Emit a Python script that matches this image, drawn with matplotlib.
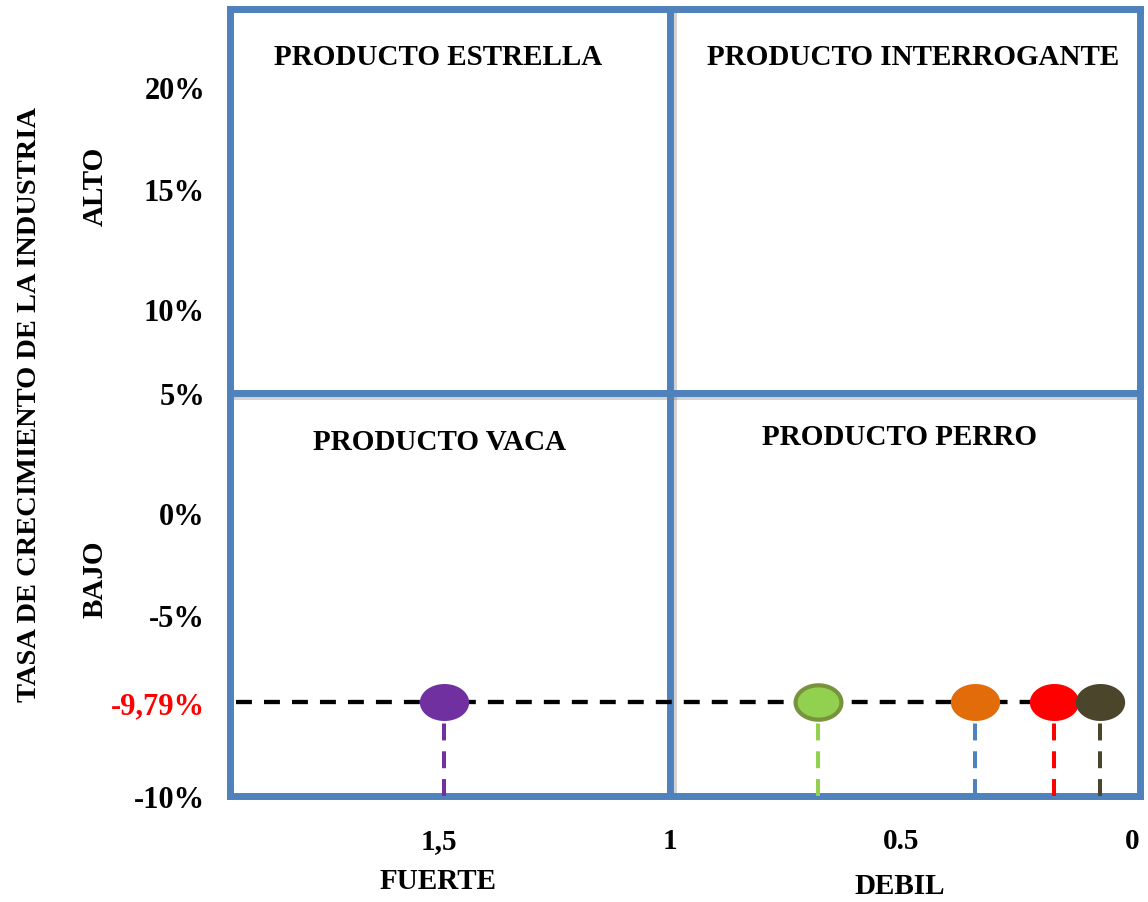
import numpy as np
import matplotlib
matplotlib.use("Agg")
import matplotlib.pyplot as plt
from matplotlib.path import Path
from matplotlib.markers import MarkerStyle
import matplotlib.patheffects as pe

# ---- data -------------------------------------------------------------
products_share = [1.49, 0.68, 0.34, 0.17, 0.07]          # relative market share
products_growth = [-9.79, -9.79, -9.79, -9.79, -9.79]    # industry growth (%)
point_faces = ["#7030A0", "#92D050", "#E36C0A", "#FF0000", "#4A452B"]
point_edges = ["#7030A0", "#77933C", "#E36C0A", "#FF0000", "#4A452B"]
stem_colors = ["#7030A0", "#92D050", "#4F81BD", "#FF0000", "#4A452B"]

growth_ticks = [20, 15, 10, 5, 0, -5, -9.79, -10]
growth_labels = ["20%", "15%", "10%", "5%", "0%", "-5%", "-9,79%", "-10%"]
share_ticks = [1.5, 1, 0.5, 0]
share_labels = ["1,5", "1", "0.5", "0"]
quadrants = ["PRODUCTO ESTRELLA", "PRODUCTO INTERROGANTE",
             "PRODUCTO VACA", "PRODUCTO PERRO"]
growth_line = -9.79
share_split = 1.0
growth_split = 5.0

# ---- layout -----------------------------------------------------------
W, H = 1148, 903
BLUE = "#4F81BD"
FONT = "Liberation Serif"
plt.rcParams["font.family"] = [FONT, "DejaVu Serif"]
plt.rcParams["font.weight"] = "bold"

# piecewise-linear vertical scale (value -> pixel row from the top)
scale_vals = np.array([-30, -10, -9.79, -5, 0, 5, 10, 15, 20, 25, 60])
scale_rows = np.array([1200, 797, 703, 616, 514, 394, 310, 190, 88, -14, -728])
scale_pos = 797 - scale_rows


def fwd(v):
    return np.interp(v, scale_vals, scale_pos)


def inv(p):
    return np.interp(p, scale_pos, scale_vals)


fig = plt.figure(figsize=(W / 100, H / 100), dpi=100)
left, right, top, bottom = 230, 1140, 10, 797
ax = fig.add_axes([left / W, 1 - bottom / H, (right - left) / W, (bottom - top) / H])
ax.set_yscale("function", functions=(fwd, inv))
ax.set_xlim(1.952, -0.017)
ax.set_ylim(-10, 23.8)

shadow = [pe.SimpleLineShadow(offset=(2, -2), shadow_color="gray", alpha=0.35),
          pe.Normal()]

for s in ax.spines.values():
    s.set_color(BLUE)
    s.set_linewidth(5)
    s.set_zorder(1)
    s.set_path_effects([pe.SimplePatchShadow(offset=(2, -2), shadow_rgbFace="gray", alpha=0.35),
                        pe.Normal()])

ax.axvline(share_split, color=BLUE, lw=5, zorder=1, path_effects=shadow)
ax.axhline(growth_split, color=BLUE, lw=5, zorder=1, path_effects=shadow)

# ticks
ax.set_yticks(growth_ticks)
ax.set_yticklabels(growth_labels, fontsize=22, fontweight="bold")
ax.get_yticklabels()[growth_labels.index("-9,79%")].set_color("#FF0000")
ax.set_xticks(share_ticks)
ax.set_xticklabels(share_labels, fontsize=21, fontweight="bold")
ax.tick_params(axis="y", length=0, pad=18)
ax.tick_params(axis="x", length=0, pad=22)
ax.minorticks_off()

# dashed reference line at the industry growth rate
ax.plot([1.94, products_share[-1]], [growth_line, growth_line], color="black",
        lw=3.1, dashes=(3.7, 2.8), zorder=2)

# stems from each product down to the base
for xv, yv, c in zip(products_share, products_growth, stem_colors):
    ax.plot([xv, xv], [-10, yv], color=c, lw=2.9, dashes=(4.2, 2.7), zorder=2)

# elliptical markers
t = np.linspace(0, 2 * np.pi, 80)
ell = Path(np.column_stack([np.cos(t), 0.75 * np.sin(t)]), closed=True)
marker = MarkerStyle(ell)
for xv, yv, fc, ec in zip(products_share, products_growth, point_faces, point_edges):
    lw = 3 if fc != ec else 0
    ms = 33 if fc != ec else 35.5
    ax.plot([xv], [yv], marker=marker, ms=ms, mfc=fc, mec=ec, mew=lw,
            ls="none", zorder=4)

# quadrant titles
title_pos = [(0.2286, 0.930), (0.7505, 0.930), (0.2308, 0.441), (0.736, 0.447)]
for txt, (xf, yf) in zip(quadrants, title_pos):
    ax.text(xf, yf, txt, transform=ax.transAxes, ha="center", va="baseline",
            fontsize=21, fontweight="bold")

# outer labels
fig.text(30 / W, 1 - 405 / H, "TASA DE CRECIMIENTO DE LA INDUSTRIA", rotation=90,
         ha="center", va="center", fontsize=20.5, fontweight="bold")
fig.text(95 / W, 1 - 186 / H, "ALTO", rotation=90, ha="center", va="center",
         fontsize=21, fontweight="bold")
fig.text(95 / W, 1 - 579 / H, "BAJO", rotation=90, ha="center", va="center",
         fontsize=21, fontweight="bold")
fig.text(438 / W, 1 - 882 / H, "FUERTE", ha="center", va="center",
         fontsize=21, fontweight="bold")
fig.text(900 / W, 1 - 887 / H, "DEBIL", ha="center", va="center",
         fontsize=21, fontweight="bold")

fig.savefig("out.png", dpi=100)
